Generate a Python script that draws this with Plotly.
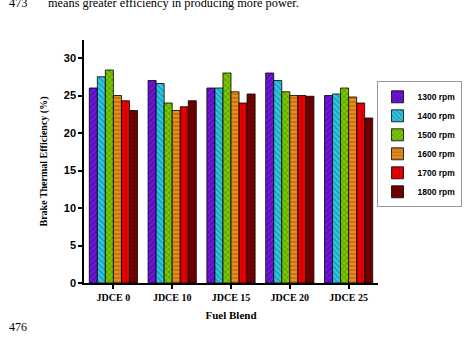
import plotly.graph_objects as go

categories = ["JDCE 0", "JDCE 10", "JDCE 15", "JDCE 20", "JDCE 25"]
series_names = ["1300 rpm", "1400 rpm", "1500 rpm", "1600 rpm", "1700 rpm", "1800 rpm"]
rpm1300 = [26.0, 27.0, 26.0, 28.0, 25.0]
rpm1400 = [27.5, 26.6, 26.0, 27.0, 25.2]
rpm1500 = [28.4, 24.0, 28.0, 25.5, 26.0]
rpm1600 = [25.0, 23.0, 25.5, 25.0, 24.8]
rpm1700 = [24.3, 23.5, 24.0, 25.0, 24.0]
rpm1800 = [23.0, 24.3, 25.2, 24.9, 22.0]
values = [rpm1300, rpm1400, rpm1500, rpm1600, rpm1700, rpm1800]
ytick_vals = [0, 5, 10, 15, 20, 25, 30]

colors = ["#7016d8", "#30c8e2", "#7cc800", "#e88c1e", "#f00000", "#7a0000"]
fgcolors = ["#3a0080", "#0a5f80", "#2a5a00", "#8a4a00", "#900000", "#300000"]
shapes = ["/", "\\", "x", "-", "|", "+"]

fig = go.Figure()
for name, vals, c, fc, sh in zip(series_names, values, colors, fgcolors, shapes):
    fig.add_trace(go.Bar(
        x=categories, y=vals, name=name,
        marker=dict(color=c, line=dict(color="black", width=0.8),
                    pattern=dict(shape=sh, fgcolor=fc, bgcolor=c, size=4, solidity=0.35)),
    ))

fig.update_layout(
    width=474, height=340,
    margin=dict(l=84, r=68, t=40, b=57),
    paper_bgcolor="white", plot_bgcolor="white",
    barmode="group", bargap=0.18, bargroupgap=0,
    showlegend=True,
    legend=dict(x=0.995, y=0.83, xanchor="left", yanchor="top",
                bgcolor="white", bordercolor="#999999", borderwidth=1,
                font=dict(family="Liberation Sans, Arial", size=8.5, color="black", weight="bold"),
                tracegroupgap=0, itemwidth=30),
    xaxis=dict(showline=True, linecolor="black", linewidth=1.5, ticks="outside",
               tickcolor="black", ticklen=4, tickwidth=1.5, range=[-0.5, 4.5],
               tickvals=categories, ticktext=["<b>%s</b>" % c for c in categories],
               tickfont=dict(family="Liberation Serif, Times New Roman", size=10, color="black"),
               title=dict(text="<b>Fuel Blend</b>", standoff=10,
                          font=dict(family="Liberation Serif, Times New Roman", size=11, color="black"))),
    yaxis=dict(showline=True, linecolor="black", linewidth=1.5, ticks="outside",
               tickcolor="black", ticklen=4, tickwidth=1.5, range=[0, 32.4],
               tickvals=ytick_vals, ticktext=["<b>%d</b>" % v for v in ytick_vals],
               showgrid=False, zeroline=False,
               tickfont=dict(family="Liberation Sans, Arial", size=11, color="black"),
               title=dict(text="<b>Brake Thermal Efficiency (%)</b>", standoff=14,
                          font=dict(family="Liberation Serif, Times New Roman", size=10, color="black"))),
)

fig.add_annotation(xref="paper", yref="paper", x=-84/322, y=1 + 28/243, xanchor="left", yanchor="bottom",
                   text="473", showarrow=False,
                   font=dict(family="Liberation Serif, Times New Roman", size=12.3, color="black"))
fig.add_annotation(xref="paper", yref="paper", x=-42/322, y=1 + 28/243, xanchor="left", yanchor="bottom",
                   text="means greater efficiency in producing more power.", showarrow=False,
                   font=dict(family="Liberation Serif, Times New Roman", size=12.3, color="black"))
fig.add_annotation(xref="paper", yref="paper", x=-84/322, y=-44/243, xanchor="left", yanchor="middle",
                   text="476", showarrow=False,
                   font=dict(family="Liberation Serif, Times New Roman", size=12, color="black"))

fig.write_html("out.html")
